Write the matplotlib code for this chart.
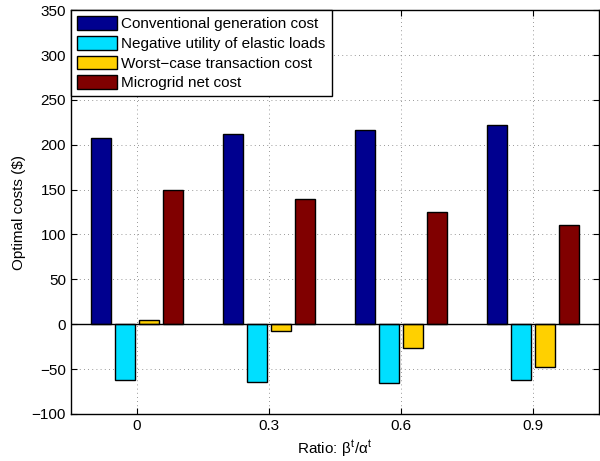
import numpy as np
import matplotlib
matplotlib.use('Agg')
import matplotlib.pyplot as plt

plt.rcParams['font.family'] = ['Liberation Sans', 'DejaVu Sans']
plt.rcParams['mathtext.fontset'] = 'custom'
plt.rcParams['mathtext.rm'] = 'Liberation Sans'
plt.rcParams['mathtext.it'] = 'Liberation Sans'

#data
ratios = ['0', '0.3', '0.6', '0.9']
conventional = [207.5, 211.5, 216.5, 221.5]
neg_utility = [-62, -64, -65, -62]
transaction = [5, -7.5, -26, -47.5]
net_cost = [150, 140, 125.5, 111]

series = [conventional, neg_utility, transaction, net_cost]
labels = ['Conventional generation cost', 'Negative utility of elastic loads',
          'Worst\u2212case transaction cost', 'Microgrid net cost']
colors = ['#00008f', '#00dfff', '#ffd000', '#800000']

fig = plt.figure(figsize=(6, 4.61), dpi=100)
ax = fig.add_axes([0.118, 0.102, 0.88, 0.876])

x = np.arange(1, len(ratios) + 1)
slot = 0.182
width = 0.15
for i, (vals, lab, col) in enumerate(zip(series, labels, colors)):
	ax.bar(x + (i - 1.5) * slot, vals, width, color=col, edgecolor='black',
	       linewidth=1.0, label=lab, zorder=3)

ax.axhline(0, color='black', linewidth=1.0, zorder=4)

ax.set_xlim(0.5, 4.5)
ax.set_ylim(-100, 350)
ax.set_xticks(x)
ax.set_xticklabels(ratios)
ax.set_yticks(np.arange(-100, 351, 50))
ax.set_yticklabels([str(v).replace('-', '\u2212') for v in range(-100, 351, 50)])
ax.tick_params(direction='in', length=4, width=0.8, labelsize=11, top=True, right=True)
ax.grid(True, linestyle=(0, (1, 4)), color='#777777', linewidth=0.6, zorder=0)
for s in ax.spines.values():
	s.set_linewidth(1.0)

ax.set_ylabel('Optimal costs ($)', fontsize=11)
ax.set_xlabel(r'Ratio: $\beta^t/\alpha^t$', fontsize=11)

leg = ax.legend(loc='upper left', fontsize=11, fancybox=False, framealpha=1,
                edgecolor='black', borderaxespad=0.0, borderpad=0.4,
                labelspacing=0.3, handlelength=2.6, handleheight=1.0,
                handletextpad=0.3)
leg.get_frame().set_linewidth(1.0)

fig.savefig('out.png', dpi=100)
